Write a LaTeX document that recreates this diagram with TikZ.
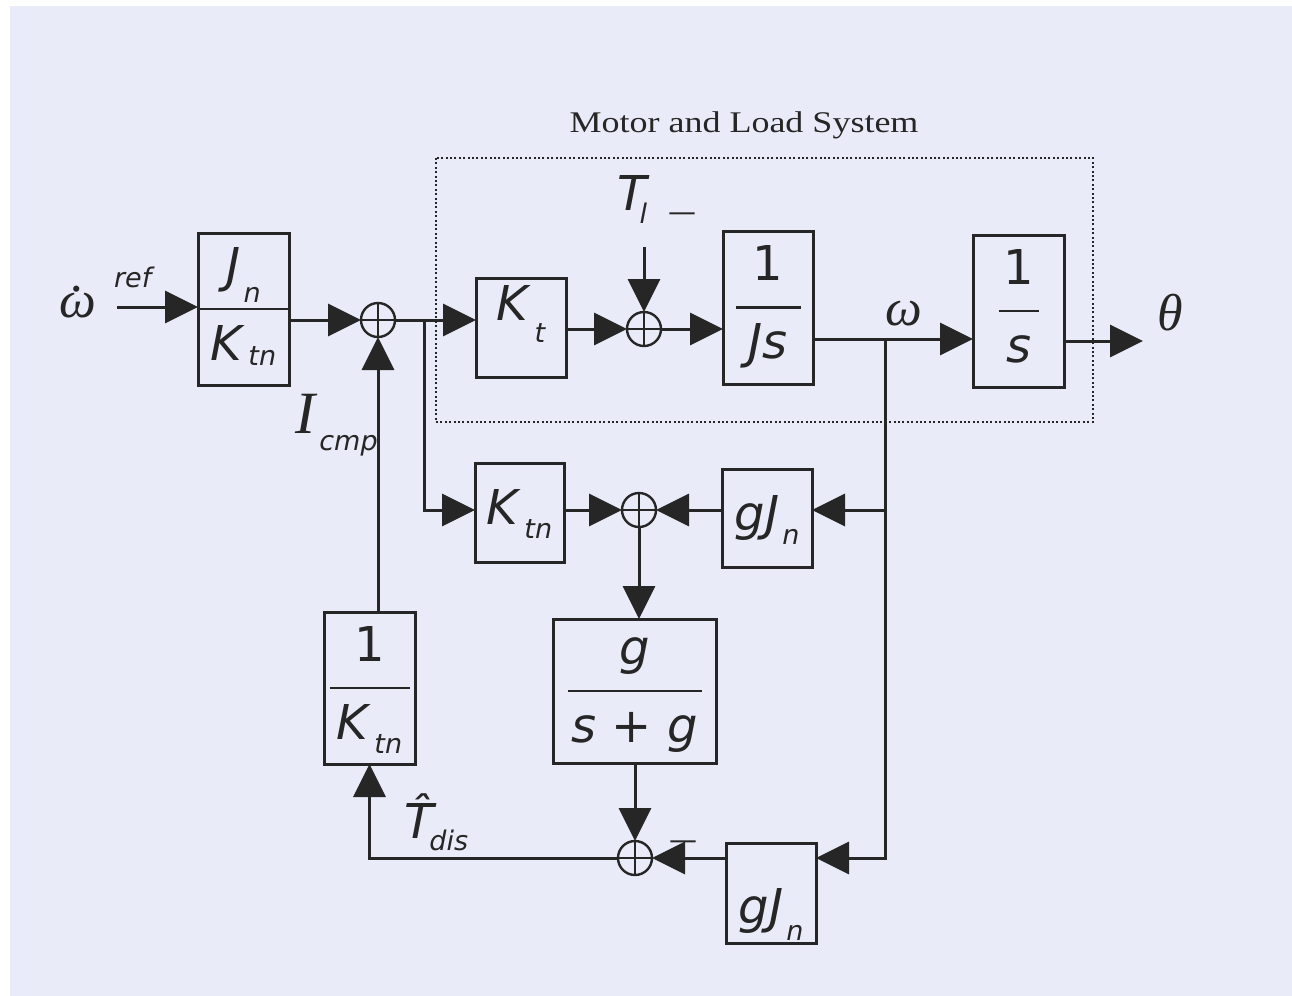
\documentclass[tikz,border=0pt]{standalone}
\usepackage{fontspec}
\setmainfont{Liberation Serif}
\newfontfamily\blkfont{DejaVu Sans}
\usetikzlibrary{arrows.meta}
\definecolor{paper}{RGB}{233,235,248}
\definecolor{ink}{RGB}{38,38,38}
\newcommand{\blk}{\blkfont\fontsize{24}{30}\selectfont}
\newcommand{\subf}{\blkfont\fontsize{13.5}{13.5}\selectfont\itshape}
\newcommand{\grk}{\fontsize{26}{26}\selectfont\itshape}
\newcommand{\lsub}[3][7pt]{\textit{#2}\hspace{1.5pt}\raisebox{-#1}{\subf #3}}
\newcommand{\fr}[2]{\begin{tabular}{@{}c@{}}#1\\[9pt]#2\end{tabular}}

\begin{document}
\begin{tikzpicture}[x=0.5pt,y=-0.5pt,every node/.style={text=ink},
  sig/.style={draw=ink,line width=1.5pt,-{Triangle[length=16.5pt,width=16pt]}},
  wire/.style={draw=ink,line width=1.5pt},
  blkbox/.style={draw=ink,line width=1.5pt,inner sep=0pt,outer sep=0pt,font=\blk,minimum width=45pt},
  gain/.style={blkbox,minimum height=49.5pt,text height=18pt,text depth=6pt},
  fracbox/.style={blkbox,minimum height=76pt,path picture={\draw[ink,line width=1.2pt] ([xshift=-#1]path picture bounding box.center) -- ([xshift=#1]path picture bounding box.center);}},
  sumnode/.style={circle,draw=ink,line width=1.2pt,minimum size=17pt,inner sep=0pt,outer sep=0pt,path picture={\draw[ink,line width=1.2pt] (path picture bounding box.north) -- (path picture bounding box.south) (path picture bounding box.west) -- (path picture bounding box.east);}},
  greek/.style={font=\grk},
  signmark/.style={font=\blkfont\fontsize{14}{14}\selectfont}]
\useasboundingbox (0,0) rectangle (1292,996);
\fill[white] (0,0) rectangle (1292,996);
\fill[paper] (10,6) rectangle (1292,996);
% motor and load system
\draw[ink,line width=1pt,dash pattern=on 1pt off 1.2pt] (436,158) rectangle (1093,422);
\node[anchor=base,font=\fontsize{15}{15}\selectfont] (title) at (744,132) {\scalebox{1.2}[1]{Motor and Load System}};
% blocks
\node[fracbox=22.75pt,minimum width=45.5pt] (jk) at (243.5,309) {\fr{\lsub[10pt]{J}{n}}{\lsub[2.5pt]{K}{tn}}};
\node[gain,text height=10pt,text depth=17.5pt] (kt) at (521,327.5) {\lsub[11pt]{K}{t}};
\node[fracbox=16.25pt,minimum height=76.5pt] (js) at (768,307.5) {\fr{1}{\textit{Js}}};
\node[fracbox=10pt,minimum width=45.5pt] (sv) at (1018.5,311) {\fr{1}{\textit{s}}};
\node[gain,minimum width=44.5pt] (ktn) at (519.5,512.5) {\lsub{K}{tn}};
\node[gain,minimum height=49pt] (gjup) at (767,518) {\lsub{gJ}{n}};
\node[fracbox=33.5pt,minimum width=81.5pt,minimum height=72pt] (gfilt) at (634.5,691) {\fr{\textit{g}}{\textit{s} + \textit{g}}};
\node[fracbox=20pt,minimum width=45.5pt] (ikt) at (369.5,688) {\fr{1}{\lsub{K}{tn}}};
\node[gain,minimum height=50pt,text height=32pt,text depth=2pt] (gjlo) at (771,893) {\lsub[8.5pt]{gJ}{n}};
\node[sumnode] (sum1) at (378,320) {};
\node[sumnode] (sum2) at (644,329) {};
\node[sumnode] (sum3) at (639,510) {};
\node[sumnode] (sum4) at (635,858) {};
\coordinate (win) at (117,307);
\coordinate (b1) at (424,320);
\coordinate (tl) at (644,247);
\coordinate (w) at (885,339);
\coordinate (thout) at (1143,341);
% labels
\node[greek,anchor=base] (wdot) at (78,317) {\rlap{\hspace{0.22em}\raisebox{0.5em}{.}}ω};
\node[anchor=base west,font=\subf] (wref) at (107,287) {ref};
\node[anchor=base west,font=\blk] (tlab) at (610,210) {\textit{T}\hspace{-5pt}\raisebox{-6.5pt}{\subf l}};
\node[signmark] (tminus) at (682,217) {—};
\node[greek,anchor=base] (wlab) at (904,325) {ω};
\node[greek,anchor=base] (thlab) at (1170,330) {θ};
\node[anchor=base west] (icmp) at (288,433) {\fontsize{30}{30}\selectfont\textit{I}\hspace{1pt}\raisebox{-8.5pt}{\subf cmp}};
\node[anchor=base west,font=\blk] (tdis) at (397,838) {\textit{\^{T}}\hspace{-2pt}\raisebox{-6pt}{\subf dis}};
\node[signmark] (dminus) at (683,845) {—};
% signals
\draw[sig] (win) -- (jk.west |- win);
\draw[sig] (jk.east |- sum1) -- (sum1);
\draw[sig] (sum1) -- (sum1 -| kt.west);
\draw[sig] (b1) |- (ktn.west |- sum3);
\draw[sig] (kt.east |- sum2) -- (sum2);
\draw[sig] (sum2) -- (sum2 -| js.west);
\draw[sig] (tl) -- (sum2);
\draw[wire] (js.east |- w) -- (w);
\draw[sig] (w) -- (w -| sv.west);
\draw[sig] (sv.east |- thout) -- (thout);
\draw[sig] (w) |- (sum3 -| gjup.east);
\draw[sig] (w) |- (sum4 -| gjlo.east);
\draw[sig] (gjup.west |- sum3) -- (sum3);
\draw[sig] (ktn.east |- sum3) -- (sum3);
\draw[sig] (sum3) -- (sum3 |- gfilt.north);
\draw[sig] (gfilt.south -| sum4) -- (sum4);
\draw[sig] (gjlo.west |- sum4) -- (sum4);
\draw[sig] (sum4) -| (ikt.south);
\draw[sig] (ikt.north -| sum1) -- (sum1);
\end{tikzpicture}
\end{document}
